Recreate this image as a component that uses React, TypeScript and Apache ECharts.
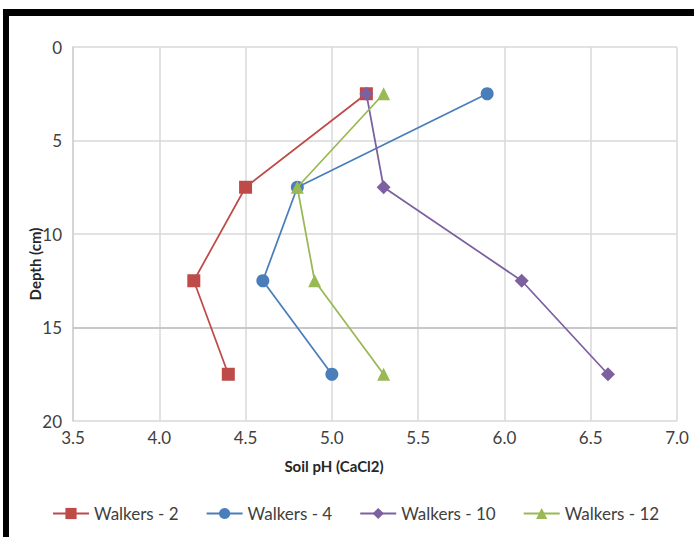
import React, { useEffect, useRef } from "react";
import * as echarts from "echarts";

const depths = [2.5, 7.5, 12.5, 17.5];
const seriesNames = ["Walkers - 2", "Walkers - 4", "Walkers - 10", "Walkers - 12"];
const walkers2 = [5.2, 4.5, 4.2, 4.4];
const walkers4 = [5.9, 4.8, 4.6, 5.0];
const walkers10 = [5.2, 5.3, 6.1, 6.6];
const walkers12 = [5.3, 4.8, 4.9, 5.3];
const xTicks = ["3.5", "4.0", "4.5", "5.0", "5.5", "6.0", "6.5", "7.0"];
const yTicks = ["0", "5", "10", "15", "20"];

const colors = ["#BE4B48", "#4A7EBB", "#7D60A0", "#98B954"];
const symbols = ["rect", "circle", "diamond", "triangle"];
const symbolSizes = [13, 13, 14, 13];
const FONT = "Lato, 'Open Sans', sans-serif";

export default function App() {
  const ref = useRef<HTMLDivElement>(null);
  useEffect(() => {
    document.body.style.margin = "0";
    const chart = echarts.init(ref.current!, null, { renderer: "svg" });
    const all = [walkers2, walkers4, walkers10, walkers12];
    const series: any[] = all.map((vals, i) => ({
      name: seriesNames[i],
      type: "line",
      data: vals.map((v, j) => [v, depths[j]]),
      symbol: symbols[i],
      symbolSize: symbolSizes[i],
      lineStyle: { color: colors[i], width: 1.75 },
      itemStyle: { color: colors[i] },
      z: 3 + i,
    }));
    series[0].markLine = {
      silent: true,
      symbol: "none",
      label: { show: false },
      lineStyle: { color: "#BFBFBF", type: "solid", width: 1.5 },
      data: [{ yAxis: 15 }],
      z: 1,
    };
    chart.setOption({
      animation: false,
      backgroundColor: "#ffffff",
      grid: { left: 73, right: 17, top: 47, bottom: 116 },
      xAxis: {
        type: "value",
        min: 3.5,
        max: 7,
        interval: 0.5,
        axisLine: { show: false },
        axisTick: { show: false },
        axisLabel: {
          color: "#404040",
          fontSize: 17,
          fontFamily: FONT,
          margin: 8,
          formatter: (v: number) => xTicks[Math.round((v - 3.5) / 0.5)] ?? v.toFixed(1),
        },
        splitLine: { show: true, lineStyle: { color: "#D9D9D9", width: 1.5 } },
      },
      yAxis: {
        type: "value",
        inverse: true,
        min: 0,
        max: 20,
        interval: 5,
        axisLine: { show: true, lineStyle: { color: "#D0D0D0", width: 1.5 } },
        axisTick: { show: false },
        axisLabel: {
          color: "#404040",
          fontSize: 17,
          fontFamily: FONT,
          margin: 11,
          formatter: (v: number) => yTicks[Math.round(v / 5)] ?? String(v),
        },
        splitLine: { show: true, lineStyle: { color: "#D9D9D9", width: 1.5 } },
      },
      legend: {
        data: seriesNames,
        left: 52,
        top: 505,
        padding: 0,
        itemWidth: 36,
        itemHeight: 14,
        itemGap: 27,
        textStyle: { color: "#404040", fontSize: 17, fontFamily: FONT },
      },
      graphic: [
        { type: "rect", shape: { x: 3, y: 9, width: 691, height: 7 }, style: { fill: "#000" } },
        { type: "rect", shape: { x: 3, y: 9, width: 6, height: 528 }, style: { fill: "#000" } },
        {
          type: "text",
          x: 334,
          y: 466,
          style: {
            text: "Soil pH (CaCl2)",
            fill: "#262626",
            font: `bold 15px ${FONT}`,
            align: "center",
            verticalAlign: "middle",
          },
        },
        {
          type: "text",
          x: 35,
          y: 264,
          rotation: Math.PI / 2,
          style: {
            text: "Depth (cm)",
            fill: "#262626",
            font: `bold 15px ${FONT}`,
            align: "center",
            verticalAlign: "middle",
          },
        },
      ],
      series,
    });
    return () => chart.dispose();
  }, []);
  return <div ref={ref} style={{ position: "absolute", left: 0, top: 0, width: 694, height: 537 }} />;
}
